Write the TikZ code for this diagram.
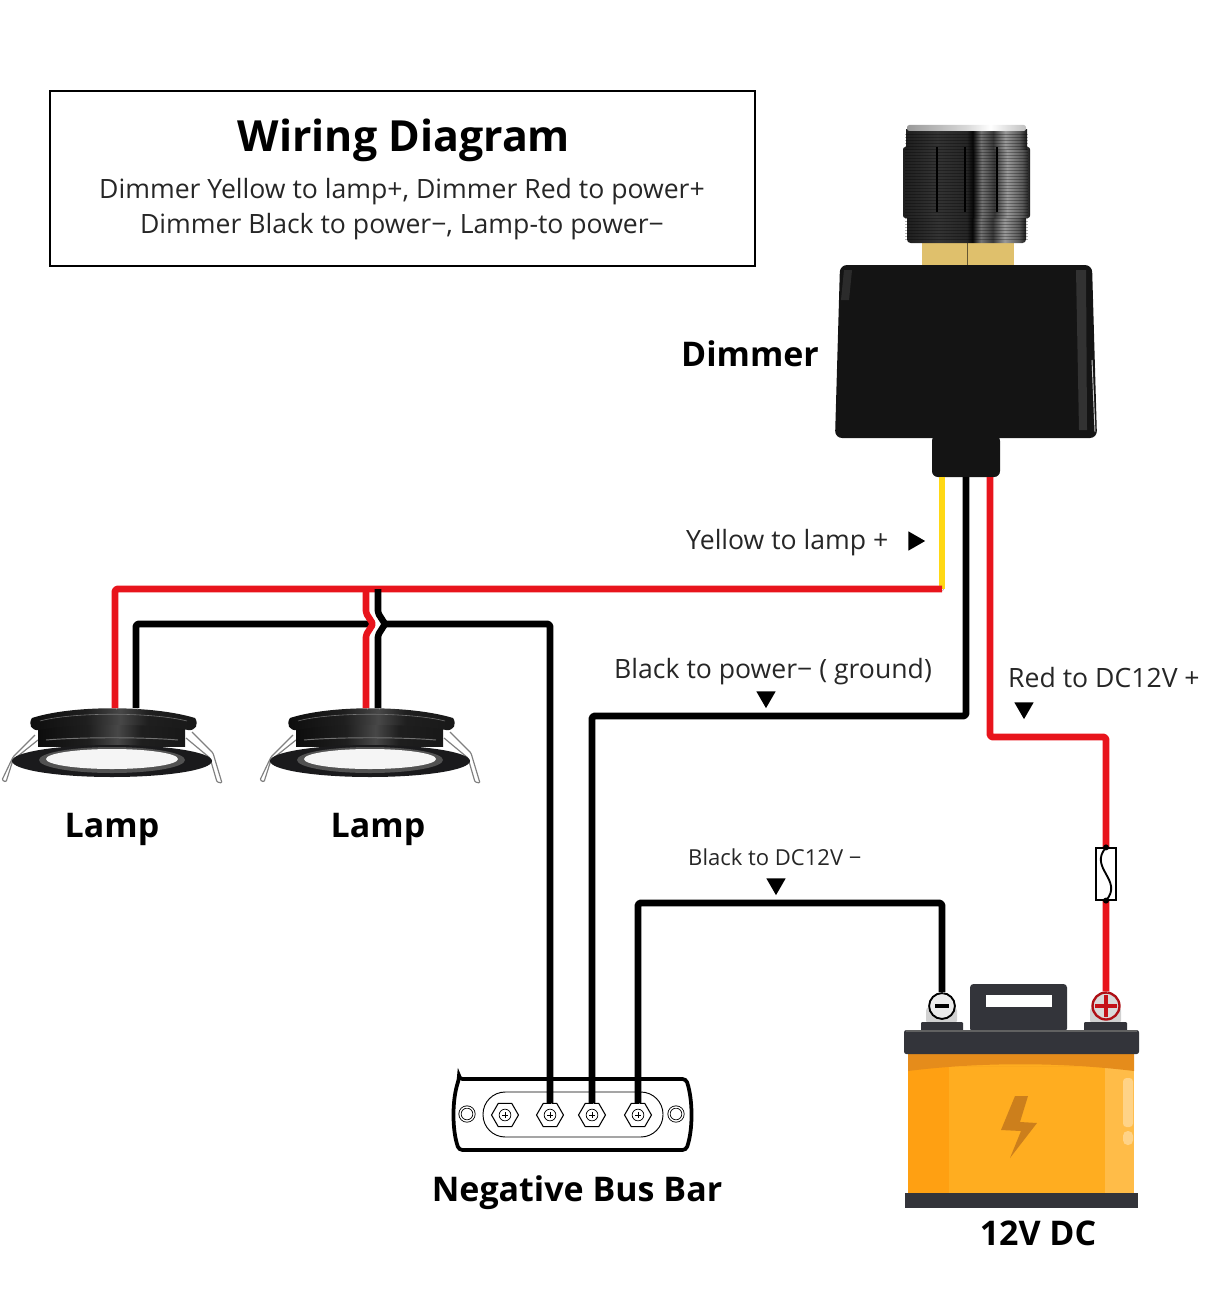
\documentclass[tikz,border=0pt]{standalone}
\usepackage{fontspec}
\setmainfont{Open Sans}
\usetikzlibrary{shapes.geometric}
\definecolor{wirered}{HTML}{E8141C}
\definecolor{wireyellow}{HTML}{FFD814}
\definecolor{lampdark}{HTML}{1A1A1C}
\definecolor{batdark}{HTML}{33343A}
\definecolor{batbody}{HTML}{FFAD20}
\definecolor{batleft}{HTML}{FFA012}
\definecolor{batright}{HTML}{FFBC48}
\definecolor{batband}{HTML}{E58C1B}
\definecolor{batbolt}{HTML}{CC7F1C}
\definecolor{brass}{HTML}{DFC06C}
\pgfdeclarehorizontalshading{knobshade}{100bp}{
  color(0bp)=(black!88); color(25bp)=(black!88); color(38bp)=(black!80);
  color(50bp)=(black!85); color(52.5bp)=(black!97); color(56bp)=(black!55);
  color(61bp)=(black!78); color(66bp)=(black!40); color(72bp)=(black!65);
  color(75bp)=(black!90); color(100bp)=(black!97)}
\pgfdeclarehorizontalshading{knobtop}{100bp}{
  color(0bp)=(black!60); color(25bp)=(black!40); color(50bp)=(black!15);
  color(60bp)=(white); color(75bp)=(black!25); color(100bp)=(black!50)}
\pgfdeclarehorizontalshading{lampshade}{100bp}{
  color(0bp)=(black!95); color(25bp)=(black!95); color(42bp)=(black!88);
  color(52bp)=(black!72); color(60bp)=(black!88); color(100bp)=(black!95)}
\tikzset{
  wire/.style={line width=5.6pt,line join=round,rounded corners=1.5pt,
    preaction={draw=black!28,transform canvas={xshift=1.1pt,yshift=-1.1pt}}},
  redwire/.style={wire,draw=wirered},
  blackwire/.style={wire,draw=black},
  yellowwire/.style={wire,draw=wireyellow},
  titletext/.style={font=\fontsize{36.6}{40}\selectfont\bfseries},
  bodytext/.style={font=\fontsize{22.7}{29.75}\selectfont,text=black!85,align=center},
  sidetext/.style={bodytext,anchor=west,inner sep=0pt},
  labeltext/.style={font=\fontsize{29}{32}\selectfont\bfseries},
  tridown/.style={regular polygon,regular polygon sides=3,shape border rotate=180,fill=black,inner sep=0pt,minimum size=19pt},
  triright/.style={regular polygon,regular polygon sides=3,shape border rotate=-90,fill=black,inner sep=0pt,minimum size=19pt},
  nutbox/.style={regular polygon,regular polygon sides=6,draw=black,line width=.9pt,fill=white,inner sep=0pt,minimum size=23pt},
  lampfix/.pic={
    \draw[black!50,line width=1pt,fill=white,rounded corners=1pt] (-77,-25) -- (-99,-3) -- (-110,20) -- (-106,22) -- (-99,0) -- (-74,-20);
    \draw[black!50,line width=1pt,fill=white,rounded corners=1pt] (80,-28) -- (101,-7) -- (110,23) -- (105,22) -- (98,-2) -- (74,-22);
    \shade[shading=lampshade] (-74,-35) -- (73,-35) -- (73,-14) -- (-74,-14) -- cycle;
    \fill[lampdark] (0,1) ellipse (100 and 16);
    \fill[black!68] (0,0) ellipse (73 and 13);
    \fill[white!96!black] (0,-1) ellipse (66 and 10);
    \shade[shading=lampshade] (-80,-42) .. controls (-40,-55) and (40,-55) .. (83,-42)
      .. controls (87,-36) and (84,-29) .. (76,-30) .. controls (40,-37) and (-40,-37) .. (-73,-30)
      .. controls (-81,-29) and (-84,-36) .. (-80,-42) -- cycle;
    \draw[black!55,line width=.5pt] (-72,-39) .. controls (-40,-48) and (40,-48) .. (75,-39);
    \draw[black!55,line width=.8pt] (-66,-20) .. controls (-30,-23) and (30,-23) .. (66,-20);
  }
}
\begin{document}
\begin{tikzpicture}[x=0.03cm,y=-0.03cm]
\useasboundingbox (0,0) rectangle (1206,1293);

\node[draw=black,line width=1pt,minimum width=705*0.03cm,minimum height=175*0.03cm] (infobox) at (402.5,178.5) {};
\node[titletext] (title) at (404,140) {Wiring Diagram};
\node[bodytext] (infotext) at (402,209) {Dimmer Yellow to lamp+, Dimmer Red to power+\\Dimmer Black to power−, Lamp-to power−};

% dimmer
\fill[brass] (922,240) rectangle (1014,268);
\draw[black!55!brass,line width=.5pt] (967,243) -- (967,265);
\shade[shading=knobshade,rounded corners=3pt] (907,212) rectangle (1026,243);
\shade[shading=knobshade,rounded corners=2pt] (903,147) rectangle (1030,218);
\shade[shading=knobshade] (906,130) rectangle (1027,150);
\shade[shading=knobtop,rounded corners=2pt] (907,125) rectangle (1026,131);
\foreach \ry in {134,137,...,240}
  \draw[black,opacity=.3,line width=.5pt] (905,\ry) -- (1028,\ry);
\foreach \rx in {937,965,997}
  \draw[black,line width=1.2pt] (\rx,147) -- (\rx,212);
\fill[black!92,rounded corners=6pt] (840,265) -- (1092,265) -- (1097,438) -- (835,438) -- cycle;
\fill[white,opacity=.1] (844,270) -- (852,270) -- (849,300) -- (841,300) -- cycle;
\fill[white,opacity=.13] (1076,270) -- (1086,270) -- (1087,430) -- (1079,430) -- cycle;
\draw[white,opacity=.8,line width=.8pt] (1092,360) -- (1095,432);
\node[fill=black!92,rounded corners=5pt,minimum width=68*0.03cm,minimum height=42*0.03cm,inner sep=0pt] (collar) at (966,456) {};
\coordinate (outY) at (942,477);
\coordinate (outK) at (966,477);
\coordinate (outR) at (990,477);
\node[labeltext] (dimmerlabel) at (750,354) {Dimmer};

% lamps
\pic at (112,760) {lampfix};
\pic at (370,760) {lampfix};
\coordinate (lampAr) at (115,708);
\coordinate (lampAk) at (136,708);
\coordinate (lampBr) at (366,708);
\coordinate (lampBk) at (378,708);
\node[labeltext] (lampA) at (112,829) {Lamp};
\node[labeltext] (lampB) at (378,829) {Lamp};

% bus bar
\draw[black,line width=3.2pt,fill=white,rounded corners=3pt] (459,1079) -- (686,1079) .. controls (693,1100) and (693,1130) .. (686,1150) -- (459,1150) .. controls (452,1130) and (452,1100) .. (459,1079) -- cycle;
\node[draw=black,line width=.8pt,rounded corners=19pt,minimum width=180*0.03cm,minimum height=45*0.03cm] (busplate) at (573,1114.5) {};
\foreach \hx/\hn in {467/holeA,676/holeB}{
  \node[circle,draw=black,line width=.7pt,minimum size=12pt,inner sep=0pt,double=white,double distance=1.2pt] (\hn) at (\hx,1114) {};
}
\foreach \nx/\nn in {505/nutA,550/nutB,592/nutC,638/nutD}{
  \node[nutbox] (\nn) at (\nx,1115) {};
  \node[circle,draw=black,line width=.6pt,minimum size=10pt,inner sep=0pt] at (\nx,1115) {};
  \draw[black,line width=.5pt] (\nx-3,1115) -- (\nx+3,1115) (\nx,1112) -- (\nx,1118);
}
\node[labeltext] (buslabel) at (577,1193) {Negative Bus Bar};

% battery
\fill[batdark,rounded corners=3pt] (970,984) rectangle (1067,1032);
\fill[white] (986,995) rectangle (1052,1007);
\fill[black!18,rounded corners=3pt] (926,1007) rectangle (957,1024);
\fill[black!18,rounded corners=3pt] (1090,1007) rectangle (1121,1024);
\fill[batdark,rounded corners=1pt] (921,1022) rectangle (963,1032);
\fill[batdark,rounded corners=1pt] (1084,1022) rectangle (1127,1032);
\fill[batbody] (908,1054) rectangle (1134,1193);
\fill[batleft] (908,1054) rectangle (949,1193);
\fill[batright] (1105,1054) rectangle (1134,1193);
\fill[batband] (908,1054) rectangle (1134,1066) (908,1066) -- (908,1071) .. controls (980,1062) and (1060,1062) .. (1134,1071) -- (1134,1066) -- cycle;
\fill[white,opacity=.35,rounded corners=3pt] (1123,1078) rectangle (1133,1127);
\fill[white,opacity=.35,rounded corners=4pt] (1123,1131) rectangle (1133,1145);
\fill[batbolt] (1015,1096) -- (1028,1096) -- (1020,1122) -- (1037,1123) -- (1010,1158) -- (1021,1131) -- (1001,1130) -- cycle;
\fill[batdark,rounded corners=2pt] (904,1030) rectangle (1139,1054);
\fill[black!62] (906,1030) rectangle (1137,1032);
\fill[batdark] (905,1193) rectangle (1138,1208);
\node[labeltext] (batlabel) at (1038,1233) {12V DC};

% wires
\coordinate (jogR) at (373,624);
\coordinate (jogK) at (385,624);
\draw[blackwire] (lampAk) |- (jogR);
\draw[blackwire] (jogK) -| (nutB.north);
\draw[blackwire] (outK) -- ++(0,239) -| (nutC.north);
\node[circle,draw=black,line width=1.6pt,fill=white!92!black,minimum size=22pt,inner sep=0pt] (termNeg) at (942,1006) {};
\fill[black] (935,1004) rectangle (949,1008);
\node[circle,draw=black!25!wirered,line width=2pt,fill=white!85!black,minimum size=23pt,inner sep=0pt] (termPos) at (1106,1006) {};
\draw[black!15!wirered,line width=3.2pt] (1095,1006) -- (1117,1006) (1106,995) -- (1106,1017);
\draw[blackwire] (nutD.north) |- (942,903) -- (termNeg.north);
\draw[yellowwire] (outY) -- ++(0,112) coordinate (joinY);
\draw[redwire] (joinY) -| (lampAr);
\draw[blackwire] (378,589) -- (378,613) -- (jogK) -- (378,635) -- (lampBk);
\draw[redwire] (366,589) -- (366,613) -- (jogR) -- (366,635) -- (lampBr);
\draw[redwire] (outR) -- ++(0,260) -| (termPos.north);

% fuse
\node[draw=black,line width=1pt,fill=white,minimum width=20*0.03cm,minimum height=52*0.03cm,inner sep=0pt] (fuse) at (1106,874) {};
\draw[black,line width=1.6pt] (fuse.north) .. controls (1088,868) and (1124,880) .. (fuse.south);
\fill[black] (fuse.north) circle (3) (fuse.south) circle (3);

% labels
\node[sidetext] (yellowlabel) at (686,543) {Yellow to lamp +};
\node[triright] (yellowtri) at (914,541) {};
\node[sidetext] (powerlabel) at (614,672) {Black to power− ( ground)};
\node[tridown] (powertri) at (766,697) {};
\node[sidetext] (redlabel) at (1008,678) {Red to DC12V +};
\node[tridown] (redtri) at (1024,708) {};
\node[sidetext,font=\fontsize{18.8}{23}\selectfont] (dclabel) at (688,857) {Black to DC12V −};
\node[tridown] (dctri) at (776,884) {};
\end{tikzpicture}
\end{document}
